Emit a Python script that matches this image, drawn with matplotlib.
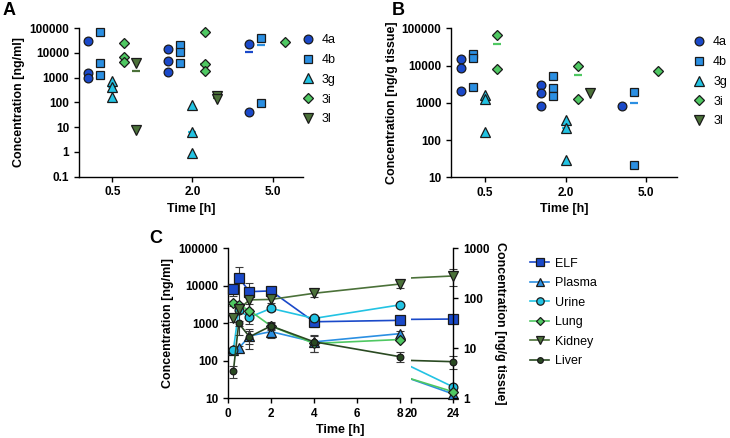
import numpy as np
import matplotlib
matplotlib.use("Agg")
import matplotlib.pyplot as plt
from matplotlib.lines import Line2D
from matplotlib.ticker import FixedLocator, FuncFormatter, NullLocator

plt.rcParams['font.family'] = ['Liberation Sans', 'DejaVu Sans']

# ---------------- data ----------------
time_labels = ['0.5', '2.0', '5.0']
compounds = ['4a', '4b', '3g', '3i', '3l']

# Panel A: concentration [ng/ml], per time group
a_4a = [[30000, 1500, 1000], [14500, 4800, 1700], [22000, 40]]
a_4b = [[72000, 3800, 1250], [21500, 11400, 3800], [40000, 98]]
a_3g = [[720, 410, 170], [80, 6.2, 0.93], []]
a_3i = [[24500, 6700, 4400], [69000, 3600, 1800], [27000]]
a_3l = [[3800, 8], [175, 135], []]

# Panel B: concentration [ng/g tissue]
b_4a = [[15500, 8700, 2100], [3000, 1870, 830], [830]]
b_4b = [[21000, 16000, 2600], [5400, 2550, 1550], [1950, 22]]
b_3g = [[1650, 1300, 165], [350, 215, 29], []]
b_3i = [[66000, 8400], [10000, 1260], [7100]]
b_3l = [[], [1870], []]

# Panel C
c_time = [0.25, 0.5, 1, 2, 4, 8, 24]
elf = [8300, 16500, 7000, 7300, 1100, 1200, 1300]
elf_sd = [3000, 16000, 5000, 1500, 300, 200, 0]
plasma = [195, 215, 460, 600, 320, 530, 13]
plasma_sd = [30, 30, 250, 200, 150, 100, 2]
urine = [190, 2200, 1450, 2500, 1350, 3100, 20]
urine_sd = [0, 300, 500, 400, 200, 300, 3]
lung = [79, 74, 57, 28, 12.5, 15, 1.35]
lung_sd = [8, 5, 5, 5, 1, 1, 0.1]
kidney = [41, 60, 93, 95, 126, 193, 280]
kidney_sd = [8, 10, 15, 15, 20, 35, 100]
liver = [3.5, 31.5, 17, 28, 13.5, 6.8, 5.4]
liver_sd = [1.0, 3, 5, 4, 5, 1.5, 1.5]

# ---------------- styles ----------------
col = {'4a': '#1a49c9', '4b': '#2b8fe2', '3g': '#22c3e3', '3i': '#4fc862', '3l': '#4b7139'}
mk = {'4a': 'o', '4b': 's', '3g': '^', '3i': 'D', '3l': 'v'}
ms = {'4a': 6.3, '4b': 6.3, '3g': 6.5, '3i': 5.0, '3l': 6.5}
offsets = {'4a': -0.3, '4b': -0.15, '3g': 0.0, '3i': 0.15, '3l': 0.3}

TICKFS = 8.5
LABFS = 9


def fmt(v, pos):
    return f'{v:.10g}'


def style_axis(ax):
    for s in ['top', 'right']:
        ax.spines[s].set_visible(False)
    for s in ['left', 'bottom']:
        ax.spines[s].set_linewidth(1.0)
    ax.tick_params(direction='out', width=1.0, length=3.5, labelsize=TICKFS)
    for lab in ax.get_xticklabels() + ax.get_yticklabels():
        lab.set_fontweight('bold')


fig = plt.figure(figsize=(7.3, 4.38), dpi=100)


def scatter_panel(ax, data, ylim, yticks, ylabel):
    x = np.arange(len(time_labels))
    for c in compounds:
        groups = data[c]
        for gi, vals in enumerate(groups):
            if len(vals) == 0:
                continue
            xpos = x[gi] + offsets[c]
            m = np.median(vals)
            if len(vals) > 1:
                ax.plot([xpos - 0.05, xpos + 0.05], [m, m], color=col[c], lw=1.6,
                        zorder=2, solid_capstyle='butt')
            ax.plot([xpos] * len(vals), vals, linestyle='none', marker=mk[c],
                    ms=ms[c], mfc=col[c], mec='#1a1a1a', mew=0.9, zorder=3, clip_on=False)
    ax.set_yscale('log')
    ax.set_ylim(*ylim)
    ax.yaxis.set_major_locator(FixedLocator(yticks))
    ax.yaxis.set_minor_locator(NullLocator())
    ax.yaxis.set_major_formatter(FuncFormatter(fmt))
    ax.set_xlim(-0.42, 2.38)
    ax.set_xticks(x)
    ax.set_xticklabels(time_labels)
    ax.set_xlabel('Time [h]', fontsize=LABFS, fontweight='bold', labelpad=3)
    ax.set_ylabel(ylabel, fontsize=LABFS, fontweight='bold', labelpad=3)
    style_axis(ax)


axA = fig.add_axes([0.108, 0.5966, 0.307, 0.339])
scatter_panel(axA, {'4a': a_4a, '4b': a_4b, '3g': a_3g, '3i': a_3i, '3l': a_3l},
              (0.1, 100000), [0.1, 1, 10, 100, 1000, 10000, 100000], 'Concentration [ng/ml]')

axB = fig.add_axes([0.618, 0.595, 0.309, 0.340])
scatter_panel(axB, {'4a': b_4a, '4b': b_4b, '3g': b_3g, '3i': b_3i, '3l': b_3l},
              (10, 100000), [10, 100, 1000, 10000, 100000], 'Concentration [ng/g tissue]')


def legend_scatter(x, y):
    handles = [Line2D([], [], linestyle='none', marker=mk[c], ms=ms[c], mfc=col[c],
                      mec='#1a1a1a', mew=0.9) for c in compounds]
    fig.legend(handles, compounds, loc='upper left', bbox_to_anchor=(x, y),
               bbox_transform=fig.transFigure, frameon=False, fontsize=9,
               labelspacing=0.62, handletextpad=0.6, handlelength=1.0, borderpad=0)


legend_scatter(0.405, 0.936)
legend_scatter(0.941, 0.931)

# ---------------- Panel C ----------------
c_left = fig.add_axes([0.3123, 0.0906, 0.2356, 0.3425])
c_right = fig.add_axes([0.5626, 0.0906, 0.0584, 0.3425])
c_left_t = c_left.twinx()
c_right_t = c_right.twinx()

series = [
    ('ELF', elf, elf_sd, 's', '#1a49c9', 6.8, 'ml'),
    ('Plasma', plasma, plasma_sd, '^', '#2b8fe2', 6.5, 'ml'),
    ('Urine', urine, urine_sd, 'o', '#22c3e3', 6.3, 'ml'),
    ('Lung', lung, lung_sd, 'D', '#4fc862', 5.0, 't'),
    ('Kidney', kidney, kidney_sd, 'v', '#4b7139', 6.5, 't'),
    ('Liver', liver, liver_sd, 'o', '#2a4a22', 4.8, 't'),
]

for axh, axt, xl in [(c_left, c_left_t, (0, 8)), (c_right, c_right_t, (20, 24))]:
    for name, vals, sd, m, c, size, kind in series:
        ax = axh if kind == 'ml' else axt
        t = np.array(c_time, dtype=float)
        v = np.array(vals, dtype=float)
        e = np.array(sd, dtype=float)
        ax.plot(t, v, color=c, lw=1.2, zorder=2)
        inr = (t >= xl[0]) & (t <= xl[1])
        lo = np.minimum(e[inr], v[inr] * 0.999)
        ax.errorbar(t[inr], v[inr], yerr=[lo, e[inr]], fmt='none', ecolor='#3a3a3a',
                    elinewidth=0.8, capsize=3, capthick=0.8, zorder=2.5, clip_on=False)
        ax.plot(t[inr], v[inr], linestyle='none', marker=m, ms=size, mfc=c,
                mec='#1a1a1a', mew=0.9, zorder=3, clip_on=False)
    for ax in (axh, axt):
        ax.set_xlim(*xl)
        ax.set_yscale('log')
    axh.set_ylim(10, 100000)
    axt.set_ylim(1, 1000)
    axh.yaxis.set_minor_locator(NullLocator())
    axt.yaxis.set_minor_locator(NullLocator())
    axh.xaxis.set_minor_locator(NullLocator())

# left segment styling
c_left.set_xticks([0, 2, 4, 6, 8])
c_left.yaxis.set_major_locator(FixedLocator([10, 100, 1000, 10000, 100000]))
c_left.yaxis.set_major_formatter(FuncFormatter(fmt))
style_axis(c_left)
c_left.set_ylabel('Concentration [ng/ml]', fontsize=LABFS, fontweight='bold', labelpad=3)
for s in c_left_t.spines.values():
    s.set_visible(False)
c_left_t.set_yticks([])
c_left_t.yaxis.set_minor_locator(NullLocator())

# right segment styling
c_right.set_xticks([20, 24])
style_axis(c_right)
c_right.spines['left'].set_visible(False)
c_right.set_yticks([])
c_right.yaxis.set_minor_locator(NullLocator())
for s in ['top', 'left', 'bottom']:
    c_right_t.spines[s].set_visible(False)
c_right_t.spines['right'].set_linewidth(1.0)
c_right_t.yaxis.set_major_locator(FixedLocator([1, 10, 100, 1000]))
c_right_t.yaxis.set_major_formatter(FuncFormatter(fmt))
c_right_t.tick_params(direction='out', width=1.0, length=3.5, labelsize=TICKFS)
for lab in c_right_t.get_yticklabels() + c_right.get_xticklabels():
    lab.set_fontweight('bold')
c_right_t.set_ylabel('Concentration [ng/g tissue]', fontsize=LABFS, fontweight='bold',
                     rotation=270, labelpad=12)

fig.text(0.4664, 0.0183, 'Time [h]', fontsize=LABFS, fontweight='bold', ha='center', va='center')

handles_c = [Line2D([], [], color=c, lw=1.2, marker=m, ms=size * 0.85, mfc=c, mec='#1a1a1a', mew=0.9)
             for name, vals, sd, m, c, size, kind in series]
fig.legend(handles_c, [s[0] for s in series], loc='upper left', bbox_to_anchor=(0.718, 0.426),
           bbox_transform=fig.transFigure, frameon=False, fontsize=9,
           labelspacing=0.6, handletextpad=0.5, handlelength=1.5, borderpad=0)

# panel letters
fig.text(0.003, 0.995, 'A', fontsize=13, fontweight='bold', va='top', ha='left')
fig.text(0.537, 0.995, 'B', fontsize=13, fontweight='bold', va='top', ha='left')
fig.text(0.205, 0.475, 'C', fontsize=13, fontweight='bold', va='top', ha='left')

fig.savefig('out.png', dpi=100)
